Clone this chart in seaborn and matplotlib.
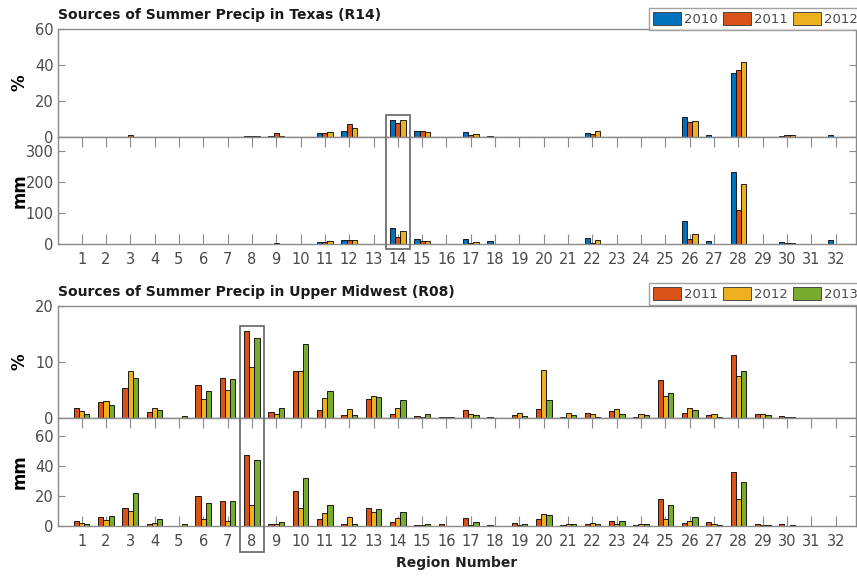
import numpy as np
import pandas as pd
import matplotlib
matplotlib.use("Agg")
import matplotlib.pyplot as plt
import matplotlib.transforms as mtransforms
from matplotlib.patches import Rectangle, Patch
import seaborn as sns

# ---------------- data ----------------
regions = [str(i) for i in range(1, 33)]

tx_years = ["2010", "2011", "2012"]
tx_pct_2010 = [0, 0, 0, 0, 0, 0.2, 0, 0.4, 0.3, 0, 2.3, 3.6, 0, 9.6, 3.2, 0,
               2.8, 0.6, 0, 0, 0, 2.3, 0, 0, 0, 11.2, 1.0, 35.3, 0.2, 0.5, 0, 1.0]
tx_pct_2011 = [0, 0, 1.0, 0, 0, 0.2, 0, 0.6, 2.0, 0, 2.3, 7.3, 0, 8.0, 3.4, 0,
               0.9, 0.1, 0, 0, 0, 1.4, 0, 0, 0, 8.3, 0, 37.2, 0.1, 1.0, 0, 0]
tx_pct_2012 = [0, 0, 0, 0, 0, 0, 0, 0.3, 0.7, 0, 2.9, 4.8, 0, 9.7, 2.7, 0,
               1.9, 0.2, 0, 0, 0, 3.1, 0, 0, 0, 8.8, 0, 41.6, 0, 1.0, 0, 0]
tx_mm_2010 = [0, 0, 0, 0, 0, 1, 0, 0, 1, 0, 6.5, 12, 0, 52, 15, 0,
              16, 11, 0, 0, 0, 18, 0, 0, 1, 73, 10, 230, 0, 5, 0, 12]
tx_mm_2011 = [0, 0, 0, 0, 0, 1, 0, 0, 2, 0, 5, 13, 0, 21, 9, 0,
              4, 1, 0, 0, 0, 3.5, 0, 0, 0, 15, 0, 109, 0, 3, 0, 0]
tx_mm_2012 = [0, 0, 0, 0, 0, 0, 0, 0, 1, 0, 10, 12, 0, 43, 9, 0,
              8, 0.5, 0, 0, 0, 13, 0, 0, 0, 31.5, 0, 192, 0, 4, 0, 0]

mw_years = ["2011", "2012", "2013"]
mw_pct_2011 = [1.85, 2.9, 5.4, 1.0, 0, 5.8, 7.2, 15.5, 1.1, 8.3, 1.5, 0.5, 3.45, 0.7, 0.3, 0.2,
               1.4, 0.1, 0.5, 1.6, 0.2, 0.9, 1.25, 0.1, 6.7, 0.9, 0.6, 11.25, 0.65, 0.35, 0, 0.05]
mw_pct_2012 = [1.2, 3.0, 8.4, 1.85, 0, 3.3, 4.9, 9.0, 0.7, 8.3, 3.6, 1.6, 3.9, 1.8, 0.2, 0.1,
               0.7, 0, 0.9, 8.6, 0.9, 0.7, 1.55, 0.7, 4.0, 1.7, 0.7, 7.4, 0.7, 0.1, 0, 0]
mw_pct_2013 = [0.7, 2.4, 7.2, 1.5, 0.3, 4.8, 6.9, 14.3, 1.7, 13.1, 4.8, 0.6, 3.8, 3.2, 0.75, 0.1,
               0.5, 0, 0.35, 3.2, 0.6, 0.25, 0.7, 0.5, 4.5, 1.5, 0.25, 8.3, 0.6, 0.1, 0, 0]
mw_mm_2011 = [3.3, 5.6, 11.8, 0.9, 0, 19.8, 16.7, 47.3, 1.1, 23.1, 4.2, 0.9, 12.0, 2.2, 0.3, 0.9,
              5.3, 0.2, 1.8, 4.2, 0.3, 1.1, 2.9, 0.3, 18.0, 1.8, 2.4, 35.8, 0.9, 1.3, 0, 0]
mw_mm_2012 = [1.6, 3.8, 9.8, 1.6, 0, 4.7, 3.1, 13.8, 1.1, 11.6, 8.4, 5.8, 8.9, 5.1, 0.3, 0,
              0.7, 0, 0.3, 7.6, 0.9, 1.8, 1.3, 0.9, 4.7, 2.9, 0.9, 17.8, 0.3, 0.1, 0, 0]
mw_mm_2013 = [1.3, 6.7, 22.0, 4.2, 0.9, 15.3, 16.2, 43.6, 2.2, 32.0, 13.6, 0.9, 11.3, 9.1, 1.1, 0,
              2.2, 0, 0.9, 7.3, 0.9, 0.9, 2.9, 0.9, 13.6, 5.8, 0.3, 28.9, 0.3, 0.3, 0, 0]

tx_title = "Sources of Summer Precip in Texas (R14)"
mw_title = "Sources of Summer Precip in Upper Midwest (R08)"
xlabel = "Region Number"

blue = "#0072BD"
orange = "#D95319"
yellow = "#EDB120"
green = "#77AC30"
tx_colors = [blue, orange, yellow]
mw_colors = [orange, yellow, green]


def long_df(years, series):
    rows = []
    for y, vals in zip(years, series):
        for r, v in zip(regions, vals):
            rows.append({"region": r, "year": y, "value": v})
    return pd.DataFrame(rows)


tx_pct = long_df(tx_years, [tx_pct_2010, tx_pct_2011, tx_pct_2012])
tx_mm = long_df(tx_years, [tx_mm_2010, tx_mm_2011, tx_mm_2012])
mw_pct = long_df(mw_years, [mw_pct_2011, mw_pct_2012, mw_pct_2013])
mw_mm = long_df(mw_years, [mw_mm_2011, mw_mm_2012, mw_mm_2013])

# ---------------- style ----------------
sns.set_style("white")
plt.rcParams["font.family"] = ["DejaVu Sans"]
tick_col = "#4a4a4a"
spine_col = "#8a8a8a"

W, H = 857, 576
fig = plt.figure(figsize=(W / 100, H / 100), dpi=100)


def fx(px):
    return px / W


def fy(py):
    return 1 - py / H


left = fx(58)
width = fx(857) - left - 0.001

ax_tp = fig.add_axes([left, fy(137), width, fy(29) - fy(137)])
ax_tm = fig.add_axes([left, fy(244), width, fy(137) - fy(244)])
ax_bp = fig.add_axes([left, fy(418), width, fy(305.7) - fy(418)])
ax_bm = fig.add_axes([left, fy(525.7), width, fy(418) - fy(525.7)])


def draw(ax, df, years, colors, ylim, yticks, ylabel, bottom_axis):
    sns.barplot(data=df, x="region", y="value", hue="year", order=regions,
                hue_order=years, palette=colors, width=0.645,
                edgecolor="black", linewidth=0.6, saturation=1,
                legend=False, ax=ax, errorbar=None)
    ax.set_xlim(-0.97, 31.84)
    ax.set_ylim(*ylim)
    ax.set_yticks(yticks)
    ax.set_yticklabels([str(t) for t in yticks])
    ax.set_xlabel("")
    ax.set_ylabel(ylabel, fontsize=12, fontweight="bold", color="black")
    for s in ax.spines.values():
        s.set_visible(True)
        s.set_color(spine_col)
        s.set_linewidth(1.0)
    ax.tick_params(axis="y", direction="in", length=5, width=0.8, color=spine_col,
                   labelsize=10.5, labelcolor=tick_col, right=True, left=True, pad=3)
    if bottom_axis:
        ax.tick_params(axis="x", direction="in", length=7, width=0.8, color=spine_col,
                       labelsize=10.5, labelcolor=tick_col, top=True, bottom=True,
                       labelbottom=True, pad=6)
    else:
        ax.tick_params(axis="x", which="both", bottom=False, top=False,
                       labelbottom=False)
    ax.grid(False)
    ax.set_facecolor("white")


draw(ax_tp, tx_pct, tx_years, tx_colors, (0, 60), [0, 20, 40, 60], "%", False)
draw(ax_tm, tx_mm, tx_years, tx_colors, (0, 344), [0, 100, 200, 300], "mm", True)
draw(ax_bp, mw_pct, mw_years, mw_colors, (0, 20), [0, 10, 20], "%", False)
draw(ax_bm, mw_mm, mw_years, mw_colors, (0, 72), [0, 20, 40, 60], "mm", True)

for ax in (ax_tp, ax_tm, ax_bp, ax_bm):
    ax.yaxis.set_label_coords(-0.037, 0.5)

ax_bm.set_xlabel(xlabel, fontsize=10, fontweight="bold", color="#222222", labelpad=5)

# titles
fig.text(fx(58), fy(15), tx_title, fontsize=10, fontweight="bold", color="#1a1a1a",
         ha="left", va="center")
fig.text(fx(58), fy(292), mw_title, fontsize=10, fontweight="bold", color="#1a1a1a",
         ha="left", va="center")


# legends
def add_legend(years, colors, y_bottom_px):
    handles = [Patch(facecolor=c, edgecolor="#333333", linewidth=0.6, label=y)
               for y, c in zip(years, colors)]
    leg = fig.legend(handles=handles, loc="lower right", ncol=3,
                     bbox_to_anchor=(1.006, fy(y_bottom_px)),
                     bbox_transform=fig.transFigure, frameon=True, fancybox=False,
                     fontsize=9.5, handlelength=2.1, handleheight=1.1,
                     handletextpad=0.25, columnspacing=0.4, borderpad=0.3,
                     borderaxespad=0)
    leg.get_frame().set_edgecolor(spine_col)
    leg.get_frame().set_linewidth(1.0)
    for t in leg.get_texts():
        t.set_color(tick_col)


add_legend(tx_years, tx_colors, 30)
add_legend(mw_years, mw_colors, 305)


# highlight boxes spanning both panels
def highlight(ax, xc, top_px, bottom_px):
    tr = mtransforms.blended_transform_factory(ax.transData, fig.transFigure)
    r = Rectangle((xc - 0.48, fy(bottom_px)), 0.96, fy(top_px) - fy(bottom_px),
                  transform=tr, fill=False, edgecolor="#707070", linewidth=1.3,
                  clip_on=False)
    fig.add_artist(r)


highlight(ax_tm, regions.index("14"), 115, 249)
highlight(ax_bm, regions.index("8"), 325.7, 551.7)

fig.savefig("out.png", dpi=100, facecolor="white")
